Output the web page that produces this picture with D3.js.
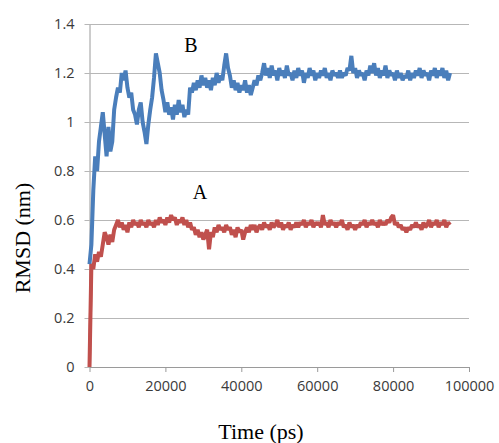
<!DOCTYPE html>
<html>
<head>
<meta charset="utf-8">
<script src="https://cdn.jsdelivr.net/npm/d3@7"></script>
<style>
  body { margin: 0; background: #fff; }
  svg { display: block; }
</style>
</head>
<body>
<script>
// RMSD vs time, two runs (A red, B blue), sampled every 500 ps
var timeStep = 500;

var seriesB = [
  0.42,0.50,0.72,0.86,0.80,0.92,0.98,1.04,0.95,0.86, // 0
  0.98,0.88,0.92,1.05,1.10,1.14,1.12,1.20,1.17,1.21, // 5000
  1.14,1.10,1.12,1.05,1.03,0.99,1.05,1.08,1.00,0.96, // 10000
  0.91,0.99,1.05,1.10,1.18,1.28,1.24,1.20,1.13,1.09, // 15000
  1.04,1.08,1.03,1.06,1.01,1.07,1.03,1.09,1.04,1.07, // 20000
  1.02,1.05,1.03,1.14,1.12,1.16,1.13,1.17,1.14,1.19, // 25000
  1.15,1.18,1.14,1.17,1.13,1.18,1.15,1.20,1.16,1.19, // 30000
  1.17,1.23,1.28,1.22,1.19,1.14,1.17,1.13,1.16,1.12, // 35000
  1.15,1.13,1.17,1.12,1.15,1.11,1.14,1.17,1.15,1.19, // 40000
  1.17,1.20,1.24,1.19,1.22,1.18,1.23,1.19,1.21,1.17, // 45000
  1.22,1.19,1.21,1.18,1.23,1.19,1.20,1.17,1.21,1.18, // 50000
  1.22,1.19,1.21,1.16,1.20,1.18,1.22,1.19,1.21,1.17, // 55000
  1.20,1.18,1.21,1.19,1.22,1.18,1.20,1.17,1.21,1.19, // 60000
  1.20,1.18,1.21,1.18,1.20,1.19,1.22,1.21,1.27,1.20, // 65000
  1.22,1.18,1.21,1.19,1.20,1.17,1.21,1.19,1.23,1.20, // 70000
  1.24,1.19,1.22,1.18,1.21,1.19,1.23,1.18,1.21,1.19, // 75000
  1.20,1.17,1.21,1.18,1.20,1.17,1.19,1.18,1.21,1.17, // 80000
  1.20,1.18,1.21,1.19,1.22,1.18,1.21,1.19,1.20,1.17, // 85000
  1.21,1.19,1.22,1.18,1.21,1.19,1.22,1.18,1.21,1.17, // 90000
  1.20                                               // 95000
];

var seriesA = [
  0.00,0.42,0.40,0.46,0.43,0.47,0.45,0.50,0.55,0.53, // 0
  0.50,0.54,0.51,0.56,0.58,0.60,0.57,0.59,0.56,0.58, // 5000
  0.55,0.59,0.57,0.60,0.58,0.59,0.57,0.60,0.58,0.59, // 10000
  0.57,0.60,0.58,0.59,0.57,0.60,0.58,0.61,0.59,0.60, // 15000
  0.58,0.61,0.59,0.62,0.60,0.61,0.58,0.60,0.59,0.61, // 20000
  0.58,0.60,0.57,0.59,0.56,0.57,0.54,0.56,0.53,0.55, // 25000
  0.52,0.54,0.56,0.48,0.55,0.53,0.57,0.55,0.58,0.56, // 30000
  0.57,0.55,0.58,0.56,0.57,0.54,0.56,0.53,0.57,0.55, // 35000
  0.56,0.52,0.55,0.57,0.55,0.58,0.56,0.58,0.55,0.57, // 40000
  0.58,0.56,0.59,0.57,0.58,0.56,0.59,0.57,0.58,0.60, // 45000
  0.57,0.59,0.56,0.58,0.57,0.59,0.56,0.58,0.57,0.59, // 50000
  0.57,0.59,0.58,0.60,0.57,0.59,0.58,0.60,0.57,0.59, // 55000
  0.58,0.59,0.57,0.62,0.58,0.59,0.57,0.60,0.58,0.59, // 60000
  0.57,0.59,0.58,0.60,0.57,0.58,0.56,0.59,0.57,0.58, // 65000
  0.56,0.58,0.57,0.59,0.58,0.60,0.57,0.59,0.58,0.60, // 70000
  0.58,0.59,0.57,0.60,0.58,0.59,0.58,0.60,0.59,0.61, // 75000
  0.62,0.58,0.59,0.57,0.58,0.56,0.57,0.55,0.57,0.56, // 80000
  0.58,0.57,0.59,0.57,0.58,0.56,0.59,0.57,0.58,0.60, // 85000
  0.57,0.59,0.58,0.60,0.57,0.59,0.58,0.60,0.57,0.59, // 90000
  0.58                                               // 95000
];

var xTicks = [0, 20000, 40000, 60000, 80000, 100000];
var yTicks = [0, 0.2, 0.4, 0.6, 0.8, 1, 1.2, 1.4];
var yTickLabels = ["0", "0.2", "0.4", "0.6", "0.8", "1", "1.2", "1.4"];

var width = 499, height = 443;
var plotLeft = 89.5, plotRight = 469, plotTop = 24, plotBottom = 367;

var svg = d3.select("body").append("svg")
  .attr("width", width)
  .attr("height", height);

var x = d3.scaleLinear().domain([0, 100000]).range([plotLeft, plotRight]);
var y = d3.scaleLinear().domain([0, 1.4]).range([plotBottom, plotTop]);

// gridlines + y labels
var yAxis = d3.axisLeft(y)
  .tickValues(yTicks)
  .tickSizeInner(-(plotRight - plotLeft))
  .tickSizeOuter(0)
  .tickPadding(15)
  .tickFormat(function(d, i) { return yTickLabels[i]; });

var gy = svg.append("g")
  .attr("transform", "translate(" + plotLeft + ",0)")
  .call(yAxis);
gy.select(".domain").attr("stroke", "#9a9a9a");
gy.selectAll(".tick line").attr("x1", -5).attr("stroke", "#b7b7b7");
gy.selectAll(".tick text")
  .attr("fill", "#3a3a3a")
  .style("font-family", "'Open Sans', sans-serif")
  .style("font-size", "14.5px");

var xAxis = d3.axisBottom(x)
  .tickValues(xTicks)
  .tickSizeInner(5)
  .tickSizeOuter(0)
  .tickPadding(9)
  .tickFormat(d3.format("d"));

var gx = svg.append("g")
  .attr("transform", "translate(0," + plotBottom + ")")
  .call(xAxis);
gx.select(".domain").attr("stroke", "#9a9a9a");
gx.selectAll(".tick line").attr("stroke", "#9a9a9a");
gx.selectAll(".tick text")
  .attr("fill", "#3a3a3a")
  .style("font-family", "'Open Sans', sans-serif")
  .style("font-size", "14.5px");

var line = d3.line()
  .x(function(d, i) { return x(i * timeStep); })
  .y(function(d) { return y(d); });

svg.append("path")
  .datum(seriesA)
  .attr("d", line)
  .attr("fill", "none")
  .attr("stroke", "#c0504d")
  .attr("stroke-width", 4)
  .attr("stroke-linejoin", "bevel");

svg.append("path")
  .datum(seriesB)
  .attr("d", line)
  .attr("fill", "none")
  .attr("stroke", "#4a7ebb")
  .attr("stroke-width", 4)
  .attr("stroke-linejoin", "bevel");

// redraw red start on top (blue hides under red near t=0)
svg.append("path")
  .datum(seriesA.slice(0, 3))
  .attr("d", line)
  .attr("fill", "none")
  .attr("stroke", "#c0504d")
  .attr("stroke-width", 3)
  .attr("stroke-linejoin", "bevel");

var serif = "'Liberation Serif', 'Times New Roman', serif";

svg.append("text")
  .attr("x", 191).attr("y", 52)
  .attr("text-anchor", "middle")
  .style("font-family", serif).style("font-size", "20px")
  .text("B");

svg.append("text")
  .attr("x", 200).attr("y", 199)
  .attr("text-anchor", "middle")
  .style("font-family", serif).style("font-size", "20px")
  .text("A");

svg.append("text")
  .attr("transform", "translate(30,238) rotate(-90)")
  .attr("text-anchor", "middle")
  .style("font-family", serif).style("font-size", "22px")
  .text("RMSD (nm)");

svg.append("text")
  .attr("x", 261).attr("y", 439)
  .attr("text-anchor", "middle")
  .style("font-family", serif).style("font-size", "22px")
  .text("Time (ps)");
</script>
</body>
</html>
